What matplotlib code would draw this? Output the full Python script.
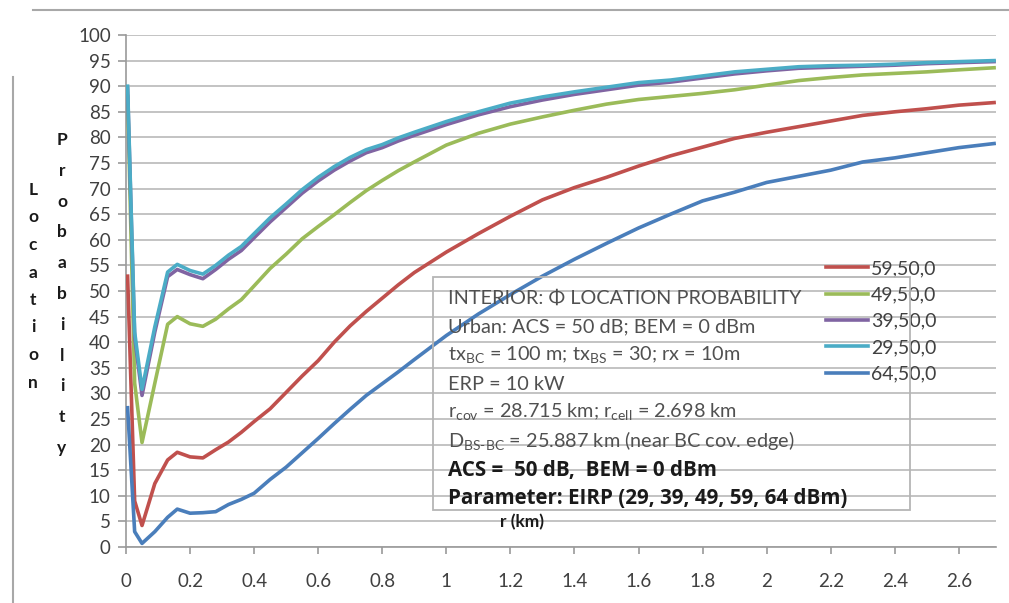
import matplotlib
matplotlib.use("Agg")
import matplotlib.pyplot as plt
from matplotlib.lines import Line2D
from matplotlib.patches import Rectangle

plt.rcParams['font.family'] = ['Lato', 'DejaVu Sans']
plt.rcParams['mathtext.fontset'] = 'custom'
plt.rcParams['mathtext.rm'] = 'Lato'
plt.rcParams['mathtext.bf'] = 'Lato:bold'

# distance from the BS (km)
r_km = [0.005, 0.027, 0.05, 0.09, 0.13, 0.16, 0.2, 0.24, 0.28, 0.32,
        0.36, 0.4, 0.45, 0.5, 0.55, 0.6, 0.65, 0.7, 0.75, 0.8,
        0.85, 0.9, 1.0, 1.1, 1.2, 1.3, 1.4, 1.5, 1.6, 1.7,
        1.8, 1.9, 2.0, 2.1, 2.2, 2.3, 2.4, 2.5, 2.6, 2.71]

# location probability (%) per EIRP setting
p_59 = [52.9, 9.0, 4.2, 12.4, 17.0, 18.5, 17.6, 17.4, 19.0, 20.5,
        22.4, 24.5, 27.0, 30.2, 33.4, 36.4, 40.0, 43.2, 46.0, 48.6,
        51.2, 53.6, 57.6, 61.2, 64.6, 67.8, 70.2, 72.2, 74.4, 76.4,
        78.1, 79.8, 81.0, 82.1, 83.2, 84.3, 85.0, 85.6, 86.3, 86.8]
p_49 = [88.0, 32.0, 20.4, 32.0, 43.5, 45.0, 43.6, 43.1, 44.5, 46.5,
        48.3, 51.0, 54.4, 57.2, 60.2, 62.6, 64.9, 67.3, 69.6, 71.6,
        73.5, 75.2, 78.5, 80.8, 82.6, 84.0, 85.3, 86.5, 87.4, 88.0,
        88.6, 89.3, 90.2, 91.1, 91.7, 92.2, 92.5, 92.8, 93.2, 93.6]
p_39 = [89.5, 41.0, 29.6, 42.0, 52.8, 54.2, 53.2, 52.4, 54.2, 56.2,
        57.9, 60.4, 63.5, 66.3, 69.1, 71.5, 73.6, 75.4, 77.0, 78.0,
        79.3, 80.4, 82.5, 84.4, 86.0, 87.3, 88.4, 89.3, 90.2, 90.8,
        91.6, 92.4, 93.0, 93.5, 93.7, 93.9, 94.1, 94.4, 94.6, 94.8]
p_29 = [90.0, 42.0, 30.8, 43.0, 53.7, 55.2, 54.0, 53.3, 55.0, 57.0,
        58.7, 61.2, 64.3, 67.0, 69.8, 72.2, 74.3, 76.1, 77.6, 78.6,
        79.9, 81.0, 83.1, 85.0, 86.7, 87.9, 88.9, 89.8, 90.7, 91.2,
        92.0, 92.8, 93.3, 93.8, 94.0, 94.1, 94.3, 94.6, 94.8, 95.0]
p_64 = [27.2, 3.0, 0.7, 3.0, 5.8, 7.4, 6.6, 6.7, 6.9, 8.3,
        9.3, 10.5, 13.2, 15.6, 18.4, 21.2, 24.1, 26.9, 29.6, 31.9,
        34.2, 36.6, 41.3, 45.5, 49.3, 52.9, 56.2, 59.3, 62.3, 65.0,
        67.6, 69.3, 71.2, 72.4, 73.6, 75.2, 76.0, 77.0, 78.0, 78.8]

series = [("59,50,0", p_59, '#C0504D'),
          ("49,50,0", p_49, '#9BBB59'),
          ("39,50,0", p_39, '#8064A2'),
          ("29,50,0", p_29, '#4BACC6'),
          ("64,50,0", p_64, '#4A7EBB')]

x_ticks = [0, 0.2, 0.4, 0.6, 0.8, 1, 1.2, 1.4, 1.6, 1.8, 2, 2.2, 2.4, 2.6]
x_labels = ['0', '0.2', '0.4', '0.6', '0.8', '1', '1.2', '1.4', '1.6', '1.8',
            '2', '2.2', '2.4', '2.6']

W, H = 1009, 603


def fx(px):
    return px / W


def fy(py):
    return 1 - py / H


fig = plt.figure(figsize=(W / 100, H / 100), dpi=100)
ax = fig.add_axes([fx(126), fy(547), fx(996) - fx(126), fy(35) - fy(547)])

lines = []
for name, vals, col in series:
    ln, = ax.plot(r_km, vals, color=col, lw=2.6, label=name, zorder=3)
    lines.append(ln)

ax.set_xlim(0, 2.716)
ax.set_ylim(0, 100)
ax.set_yticks(range(0, 101, 5))
ax.set_xticks(x_ticks)
ax.set_xticklabels(x_labels)
ax.grid(axis='y', color='#c3c3c3', lw=1.4)
ax.set_axisbelow(True)
for s in ['top', 'right']:
    ax.spines[s].set_visible(False)
for s in ['left', 'bottom']:
    ax.spines[s].set_color('#9a9a9a')
    ax.spines[s].set_linewidth(1.2)
ax.tick_params(axis='y', length=6, width=1.2, color='#9a9a9a', pad=5,
               labelsize=13.5, labelcolor='#404040')
ax.tick_params(axis='x', length=5, width=1.2, color='#9a9a9a', pad=14,
               labelsize=13.5, labelcolor='#404040')

# stacked axis title letters
for i, ch in enumerate("Location"):
    fig.text(fx(33), fy(190 + i * 27.5), ch, ha='center', va='center',
             fontsize=12.5, fontweight='bold', color='#1a1a1a')
for i, ch in enumerate("Probability"):
    fig.text(fx(62), fy(140 + i * 30.8), ch, ha='center', va='center',
             fontsize=12.5, fontweight='bold', color='#1a1a1a')
fig.text(fx(522), fy(522), "r (km)", ha='center', va='center',
         fontsize=12.5, fontweight='bold', color='#1a1a1a')

ax.legend(handles=lines, loc='upper left', frameon=False,
          bbox_to_anchor=(fx(826), fy(260)), bbox_transform=fig.transFigure,
          fontsize=14, handlelength=2.15, handletextpad=0.15,
          labelspacing=0.48, borderpad=0, borderaxespad=0, labelcolor='#404040')

# annotation box
fig.add_artist(Rectangle((fx(433), fy(510)), fx(910) - fx(433), fy(277) - fy(510),
                         transform=fig.transFigure, fill=False,
                         edgecolor='#b5b5b5', lw=1.3, zorder=5))
notes = [
    ("INTERIOR: \u03a6 LOCATION PROBABILITY", 'normal'),
    ("Urban: ACS = 50 dB; BEM = 0 dBm", 'normal'),
    (r"tx$_{\mathrm{BC}}$ = 100 m; tx$_{\mathrm{BS}}$ = 30; rx = 10m", 'normal'),
    ("ERP = 10 kW", 'normal'),
    (r"r$_{\mathrm{cov}}$ = 28.715 km; r$_{\mathrm{cell}}$ = 2.698 km", 'normal'),
    (r"D$_{\mathrm{BS\text{-}BC}}$ = 25.887 km (near BC cov. edge)", 'normal'),
    ("ACS =  50 dB,  BEM = 0 dBm", 'bold'),
    ("Parameter: EIRP (29, 39, 49, 59, 64 dBm)", 'bold'),
]
for i, (txt, wt) in enumerate(notes):
    if wt == 'bold':
        fig.text(fx(448), fy(298 + i * 28.7), txt, ha='left', va='center',
                 fontsize=14.8, fontweight='bold', family=['Open Sans', 'DejaVu Sans'],
                 color='#1a1a1a')
    else:
        fig.text(fx(448), fy(298 + i * 28.7), txt, ha='left', va='center',
                 fontsize=14.3, color='#505050')

# page frame lines
fig.add_artist(Line2D([fx(33), 1], [fy(10), fy(10)], color='#a8a8a8', lw=1.5))
fig.add_artist(Line2D([fx(13), fx(13)], [fy(77), 0], color='#a8a8a8', lw=1.5))

fig.savefig("out.png", dpi=100)
